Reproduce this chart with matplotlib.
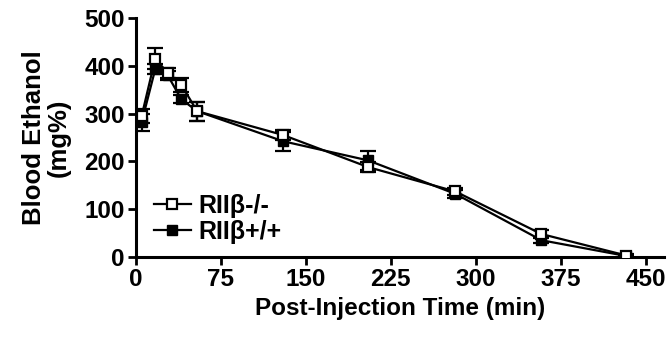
import matplotlib
matplotlib.use("Agg")
import matplotlib.pyplot as plt
from matplotlib.lines import Line2D

time_min = [5, 17, 28, 40, 54, 130, 205, 282, 358, 433]
ko_mean = [295, 415, 385, 360, 305, 255, 188, 137, 48, 3]
ko_err = [15, 22, 10, 15, 20, 10, 10, 8, 8, 3]
wt_mean = [282, 393, 380, 330, 305, 242, 202, 132, 35, 2]
wt_err = [18, 10, 10, 8, 20, 20, 20, 8, 6, 3]
x_ticks = [0, 75, 150, 225, 300, 375, 450]
y_ticks = [0, 100, 200, 300, 400, 500]
labels = ["RIIβ-/-", "RIIβ+/+"]

plt.rcParams['font.family'] = ['Liberation Sans', 'DejaVu Sans']
plt.rcParams['font.weight'] = 'bold'

fig = plt.figure(figsize=(6.68, 3.39), dpi=100)
ax = fig.add_axes([0.2036, 0.242, 0.79, 0.705])

ax.errorbar(time_min, wt_mean, yerr=wt_err, color='black', marker='s',
            markersize=7.5, markerfacecolor='black', markeredgecolor='black',
            linewidth=1.6, elinewidth=1.6, capsize=6, capthick=1.6, zorder=3)
ax.errorbar(time_min, ko_mean, yerr=ko_err, color='black', marker='s',
            markersize=7.5, markerfacecolor='white', markeredgecolor='black',
            markeredgewidth=1.6, linewidth=1.6, elinewidth=1.6, capsize=6,
            capthick=1.6, zorder=4)

ax.set_xlim(0, 466)
ax.set_ylim(0, 500)
ax.set_xticks(x_ticks)
ax.set_yticks(y_ticks)
for s in ['top', 'right']:
    ax.spines[s].set_visible(False)
for s in ['left', 'bottom']:
    ax.spines[s].set_linewidth(2.2)
ax.tick_params(axis='both', which='major', length=6, width=2, labelsize=17.5, pad=2)
for lab in ax.get_xticklabels() + ax.get_yticklabels():
    lab.set_fontweight('bold')

ax.set_xlabel("Post-Injection Time (min)", fontsize=17.5, fontweight='bold', labelpad=4)
ax.set_ylabel("Blood Ethanol\n(mg%)", fontsize=18.5, fontweight='bold', labelpad=10,
              linespacing=1.05)

h_ko = Line2D([], [], color='black', marker='s', markersize=7, markerfacecolor='white',
              markeredgecolor='black', markeredgewidth=1.6, linewidth=1.6)
h_wt = Line2D([], [], color='black', marker='s', markersize=7, markerfacecolor='black',
              markeredgecolor='black', linewidth=1.6)
leg = ax.legend([h_ko, h_wt], labels,
                loc='lower left', bbox_to_anchor=(0.0, -0.02), frameon=False,
                fontsize=18, handlelength=1.5, handletextpad=0.3,
                labelspacing=0.1, borderpad=0.2)
for t in leg.get_texts():
    t.set_fontweight('bold')

fig.savefig("out.png", dpi=100)
